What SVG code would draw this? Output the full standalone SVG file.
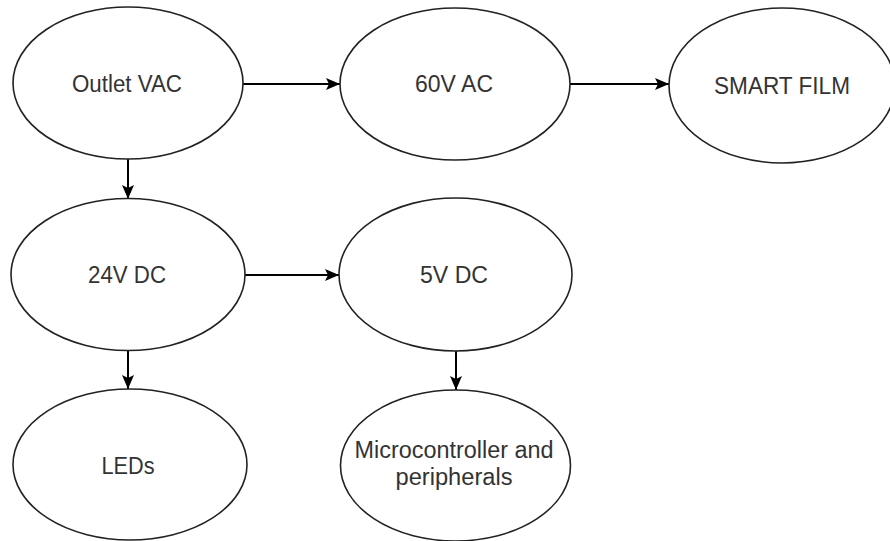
<svg xmlns="http://www.w3.org/2000/svg" width="890" height="541" viewBox="0 0 890 541">
<style>
.node ellipse{fill:#fff;stroke:#222;stroke-width:1.6}
.node text{font-family:"Liberation Sans",Arial,sans-serif;font-size:23px;fill:#333;text-anchor:middle}
.conn line{stroke:#000;stroke-width:2;marker-end:url(#ah)}
</style>
<defs>
<marker id="ah" viewBox="0 0 14 12" refX="14" refY="6" markerWidth="14" markerHeight="12" markerUnits="userSpaceOnUse" orient="auto">
<path d="M0,0 L14,6 L0,12 L3,6 Z" fill="#000"/>
</marker>
</defs>
<rect width="890" height="541" fill="#fff"/>
<g class="conn">
<line x1="243" y1="84" x2="340" y2="84"/>
<line x1="570" y1="84" x2="669" y2="84"/>
<line x1="128" y1="159" x2="128" y2="199"/>
<line x1="245" y1="275" x2="339" y2="275"/>
<line x1="128" y1="350" x2="128" y2="389"/>
<line x1="456" y1="351" x2="456" y2="390"/>
</g>
<g id="outlet" class="node"><ellipse cx="128" cy="83" rx="115" ry="76"/><text x="127" y="92" textLength="110" lengthAdjust="spacingAndGlyphs">Outlet VAC</text></g>
<g id="ac60" class="node"><ellipse cx="455" cy="84" rx="115" ry="76"/><text x="454" y="92" textLength="78" lengthAdjust="spacingAndGlyphs">60V AC</text></g>
<g id="film" class="node"><ellipse cx="782" cy="85.5" rx="113" ry="77.5"/><text x="782" y="94" textLength="136" lengthAdjust="spacingAndGlyphs">SMART FILM</text></g>
<g id="dc24" class="node"><ellipse cx="128" cy="274.5" rx="117" ry="76"/><text x="127" y="283" textLength="78" lengthAdjust="spacingAndGlyphs">24V DC</text></g>
<g id="dc5" class="node"><ellipse cx="455.5" cy="274.5" rx="116.5" ry="76.5"/><text x="454" y="283" textLength="68" lengthAdjust="spacingAndGlyphs">5V DC</text></g>
<g id="leds" class="node"><ellipse cx="130" cy="464.5" rx="117" ry="75.5"/><text x="128" y="474" textLength="53" lengthAdjust="spacingAndGlyphs">LEDs</text></g>
<g id="micro" class="node"><ellipse cx="455.5" cy="465.5" rx="115" ry="75.5"/><text x="454" y="458" textLength="199" lengthAdjust="spacingAndGlyphs">Microcontroller and</text><text x="454" y="485" textLength="117" lengthAdjust="spacingAndGlyphs">peripherals</text></g>
</svg>
